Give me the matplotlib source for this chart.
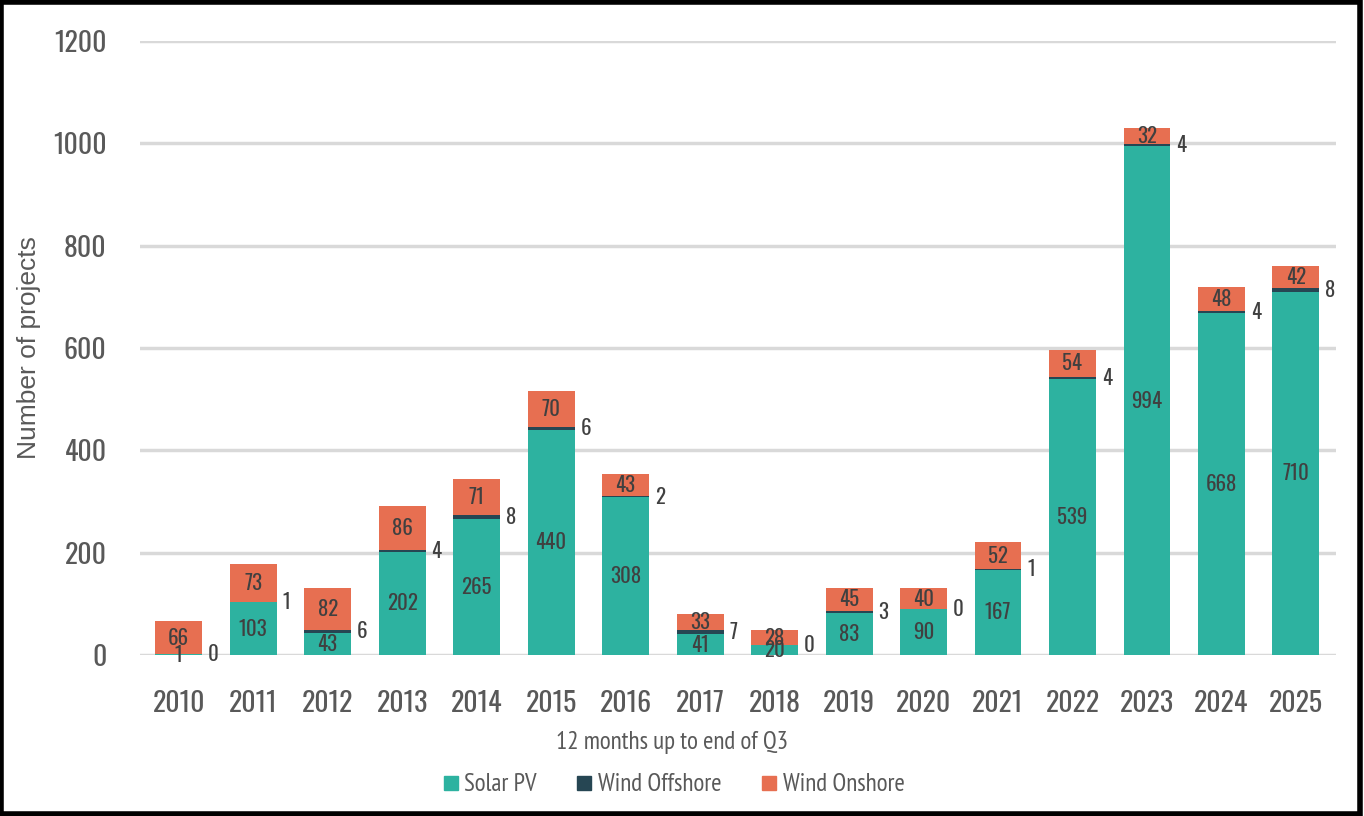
#!/usr/bin/env python3
"""
Projetos renovaveis por ano (barras empilhadas).
"""
import matplotlib

matplotlib.use("Agg")
import matplotlib.pyplot as plt
from matplotlib import font_manager
from matplotlib.patches import Rectangle
from matplotlib.lines import Line2D

years = ["2010", "2011", "2012", "2013", "2014", "2015", "2016", "2017",
         "2018", "2019", "2020", "2021", "2022", "2023", "2024", "2025"]
solar_pv = [1, 103, 43, 202, 265, 440, 308, 41, 20, 83, 90, 167, 539, 994, 668, 710]
wind_offshore = [0, 1, 6, 4, 8, 6, 2, 7, 0, 3, 0, 1, 4, 4, 4, 8]
wind_onshore = [66, 73, 82, 86, 71, 70, 43, 33, 28, 45, 40, 52, 54, 32, 48, 42]

C_SOLAR = "#2db2a0"
C_OFF = "#264653"
C_ON = "#e76f51"
TXT = "#404040"
TICK = "#595959"

names = {f.name for f in font_manager.fontManager.ttflist}


def pick(*cands):
    for c in cands:
        if c in names:
            return c
    return "DejaVu Sans"


num_font = pick("Oswald", "Roboto Condensed", "Roboto")
lab_font = pick("PT Sans Narrow", "Archivo Narrow", "Roboto Condensed", "Liberation Sans")
ylab_font = pick("Liberation Sans", "Arimo", "DejaVu Sans")

fig = plt.figure(figsize=(13.64, 8.16), dpi=100)
ax = fig.add_axes([0.1026, 0.1973, 0.877, 0.7525])

x = list(range(len(years)))
w = 0.63
bottom_on = [s + o for s, o in zip(solar_pv, wind_offshore)]
ax.bar(x, solar_pv, w, color=C_SOLAR, zorder=2)
ax.bar(x, wind_offshore, w, bottom=solar_pv, color=C_OFF, zorder=2)
ax.bar(x, wind_onshore, w, bottom=bottom_on, color=C_ON, zorder=2)

lab_kw = dict(fontsize=15, family=num_font, weight=300, color=TXT, zorder=3)
for i in x:
    s, o, n = solar_pv[i], wind_offshore[i], wind_onshore[i]
    ax.text(i, s / 2, str(s), ha="center", va="center", **lab_kw)
    ax.text(i + w / 2 + 0.08, s + o / 2, str(o), ha="left", va="center", **lab_kw)
    ax.text(i, s + o + n / 2, str(n), ha="center", va="center", **lab_kw)

ax.set_xlim(-0.52, 15.54)
ax.set_ylim(0, 1200)
ax.set_yticks(range(0, 1201, 200))
ax.set_xticks(x)
ax.set_xticklabels(years)
ax.grid(axis="y", color="#d9d9d9", linewidth=2.5, zorder=0)
for sp in ax.spines.values():
    sp.set_visible(False)
ax.tick_params(length=0, labelsize=20, labelcolor=TICK)
ax.tick_params(axis="x", pad=25)
ax.tick_params(axis="y", pad=24)
for lab in ax.get_xticklabels() + ax.get_yticklabels():
    lab.set_family(num_font)

ax.set_xlabel("12 months up to end of Q3", fontsize=18, family=lab_font,
              color=TICK, va="center")
ax.xaxis.set_label_coords(0.445, -0.1417)
ax.set_ylabel("Number of projects", fontsize=19, family=ylab_font,
              color=TICK, va="center")
ax.yaxis.set_label_coords(-0.093, 0.5)

handles = [Line2D([], [], marker="s", linestyle="", markersize=9.5, color=c)
           for c in (C_SOLAR, C_OFF, C_ON)]
leg = fig.legend(handles, ["Solar PV", "Wind Offshore", "Wind Onshore"],
                 loc="center", bbox_to_anchor=(0.494, 0.038), ncol=3,
                 frameon=False, handlelength=0.6, handletextpad=0.25,
                 columnspacing=1.6, prop={"family": lab_font, "size": 18})
for t in leg.get_texts():
    t.set_color(TICK)

fig.patches.append(Rectangle((0.001, 0.002), 0.996, 0.995, transform=fig.transFigure,
                             fill=False, edgecolor="black", linewidth=4))

fig.savefig("out.png", dpi=100)
